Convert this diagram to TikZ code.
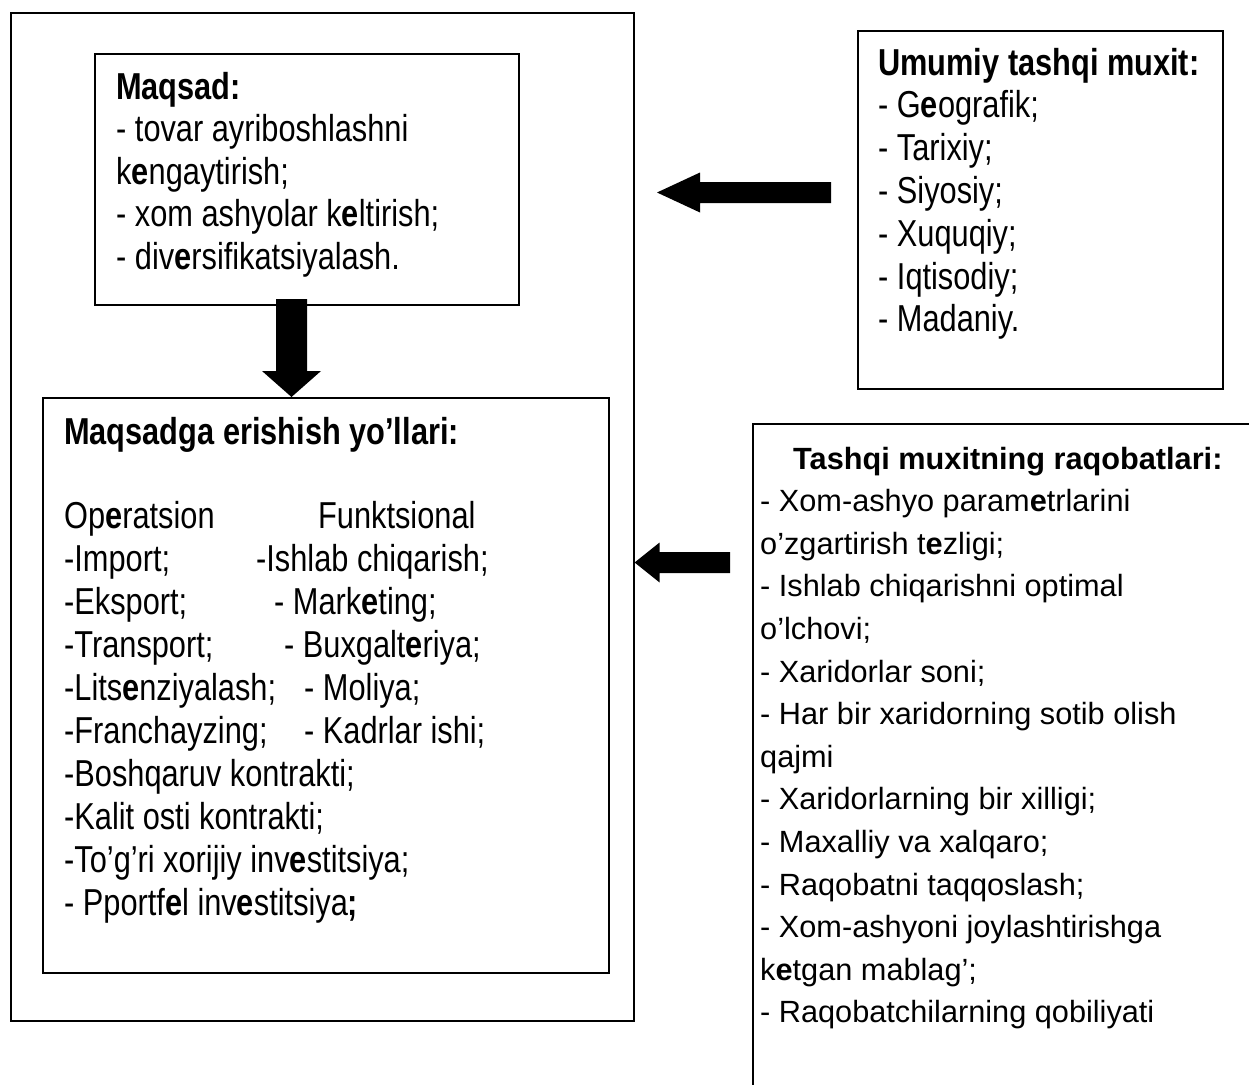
\documentclass[tikz,border=0pt]{standalone}
\usepackage{fontspec}
\setmainfont{Liberation Sans}
\newfontfamily\narrowfont[FakeStretch=0.82]{Liberation Sans}
\usetikzlibrary{calc}

% bold "e" as it appears inside some words
\newcommand\be{\textbf{e}}

% solid block arrow from #1 to #2: half shaft width #3, half head width #4, head length #5
\newcommand\blockarrow[5]{%
  \coordinate (ba-h) at ($(#2)!#5!(#1)$);
  \fill ($(#1)!#3!90:(#2)$) -- ($(ba-h)!#3!90:(#2)$) -- ($(ba-h)!#4!90:(#2)$) -- (#2)
        -- ($(ba-h)!#4!-90:(#2)$) -- ($(ba-h)!#3!-90:(#2)$) -- ($(#1)!#3!-90:(#2)$) -- cycle;}

\begin{document}
\begin{tikzpicture}[x=1pt,y=-1pt,
  box/.style={draw=black, line width=1.6pt, rectangle, inner sep=0pt, anchor=north west},
  narrowtext/.style={font=\narrowfont\fontsize{37.5}{43}\selectfont, anchor=base west, inner sep=0pt},
  widetext/.style={font=\fontsize{30.7}{42.6}\selectfont, anchor=base west, inner sep=0pt}]

\useasboundingbox (0,0) rectangle (1249,1084);
\clip (0,0) rectangle (1249,1084);

% frames
\node[box, minimum width=623pt, minimum height=1008pt] (outer) at (10,12) {};
\node[box, minimum width=424pt, minimum height=251pt] (maqsad) at (94,53) {};
\node[box, minimum width=566pt, minimum height=575pt] (ways) at (42,397) {};
\node[box, minimum width=365pt, minimum height=358pt] (general) at (857,30) {};
\node[box, minimum width=560pt, minimum height=720pt] (rivals) at (752,423) {};

% goal box text
\foreach \txt [count=\i from 0] in {{\textbf{Maqsad:}}, {- tovar ayriboshlashni}, {k\be ngaytirish;},
    {- xom ashyolar k\be ltirish;}, {- div\be rsifikatsiyalash.}}
  \node[narrowtext] (goal-\i) at (116, {99+42.5*\i}) {\txt};

% ways of reaching the goal
\node[narrowtext] (ways-title) at (64,444) {\textbf{Maqsadga erishish yo’llari:}};
\foreach \txt [count=\i from 0] in {{Op\be ratsion}, {-Import;}, {-Eksport;}, {-Transport;},
    {-Lits\be nziyalash;}, {-Franchayzing;}, {-Boshqaruv kontrakti;}, {-Kalit osti kontrakti;},
    {-To’g’ri xorijiy inv\be stitsiya;}, {- Pportf\be l inv\be stitsiya\textbf{;}}}
  \node[narrowtext] (op-\i) at (64, {528+43.1*\i}) {\txt};
\node[narrowtext] (fn-0) at (318, 528) {Funktsional};
\node[narrowtext] (fn-1) at (256, 571.1) {-Ishlab chiqarish;};
\node[narrowtext] (fn-2) at (274, 614.2) {- Mark\be ting;};
\node[narrowtext] (fn-3) at (284, 657.3) {- Buxgalt\be riya;};
\node[narrowtext] (fn-4) at (304, 700.4) {- Moliya;};
\node[narrowtext] (fn-5) at (304, 743.5) {- Kadrlar ishi;};

% general external environment
\foreach \txt [count=\i from 0] in {{\textbf{Umumiy tashqi muxit:}}, {- G\be ografik;}, {- Tarixiy;},
    {- Siyosiy;}, {- Xuquqiy;}, {- Iqtisodiy;}, {- Madaniy.}}
  \node[narrowtext] (gen-\i) at (878, {75+42.8*\i}) {\txt};

% competitive forces of the environment
\node[widetext] (riv-title) at (793,469) {\textbf{Tashqi muxitning raqobatlari:}};
\foreach \txt [count=\i from 1] in {{- Xom-ashyo param\be trlarini}, {o’zgartirish t\be zligi;},
    {- Ishlab chiqarishni optimal}, {o’lchovi;}, {- Xaridorlar soni;},
    {- Har bir xaridorning sotib olish}, {qajmi}, {- Xaridorlarning bir xilligi;},
    {- Maxalliy va xalqaro;}, {- Raqobatni taqqoslash;}, {- Xom-ashyoni joylashtirishga},
    {k\be tgan mablag’;}, {- Raqobatchilarning qobiliyati}}
  \node[widetext] (riv-\i) at (760, {469+42.6*\i}) {\txt};

% block arrows
\coordinate (down-s) at (291.5,299);
\coordinate (down-e) at (ways.north -| down-s);
\blockarrow{down-s}{down-e}{15.5pt}{29.5pt}{26pt}

\coordinate (top-s) at (831,192.5);
\coordinate (top-e) at (657,192.5);
\blockarrow{top-s}{top-e}{10.5pt}{20pt}{43pt}

\coordinate (low-s) at (730,562.5);
\coordinate (low-e) at (outer.east |- low-s);
\blockarrow{low-s}{low-e}{10.5pt}{20pt}{25pt}

\end{tikzpicture}
\end{document}
